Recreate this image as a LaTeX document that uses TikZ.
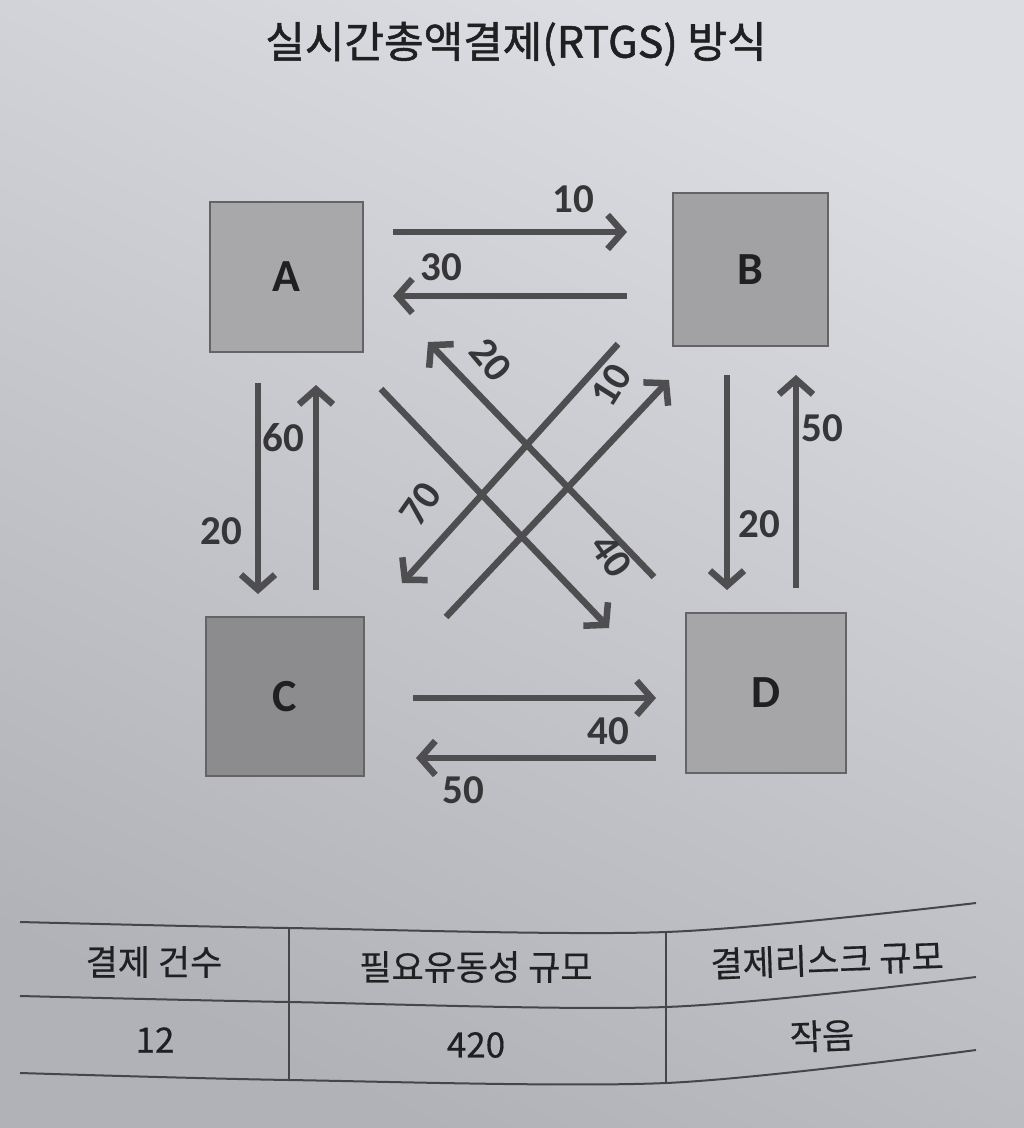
\documentclass[tikz,border=0pt]{standalone}
\usepackage{fontspec}
\setmainfont{Carlito}
\newfontfamily\kr[FakeBold=0.5]{Noto Sans CJK KR}
\newfontfamily\krt[FakeBold=1.2]{Noto Sans CJK KR}
\usetikzlibrary{arrows.meta}
\definecolor{pagetop}{RGB}{219,221,226}
\definecolor{pagebot}{RGB}{176,178,183}
\definecolor{arrowgray}{RGB}{78,78,80}
\definecolor{boxedge}{RGB}{100,100,102}
\definecolor{boxA}{RGB}{168,168,170}
\definecolor{boxB}{RGB}{162,162,164}
\definecolor{boxC}{RGB}{140,140,142}
\definecolor{boxD}{RGB}{166,166,168}
\definecolor{inkgray}{RGB}{32,32,34}
\definecolor{rulegray}{RGB}{70,70,72}
\begin{document}
\begin{tikzpicture}[x=1pt,y=-1pt,
  box/.style={draw=boxedge, line width=2pt, inner sep=0pt,
    font=\fontsize{46}{48}\selectfont\bfseries, text=inkgray},
  flow/.style={draw=arrowgray, line width=6.5pt,
    -{Straight Barb[length=15pt,width=34pt]}},
  lbl/.style={font=\fontsize{41}{43}\selectfont\bfseries, text=inkgray!90, inner sep=0pt},
  cell/.style={font=\kr\fontsize{35}{37}\selectfont, text=inkgray, inner sep=0pt},
  rule/.style={draw=rulegray, line width=2pt}
]
% page background
\shade[shading=axis, top color=pagetop, bottom color=pagebot, shading angle=-25]
  (0,0) rectangle (1024,1128);
\useasboundingbox (0,0) rectangle (1024,1128);

% title
\node[font=\krt\fontsize{43}{45}\selectfont, text=inkgray] (title) at (516,44)
  {실시간총액결제(RTGS) 방식};

% boxes
\node[box, fill=boxA, minimum width=153pt, minimum height=150pt] (A) at (286.5,277) {A};
\node[box, fill=boxB, minimum width=155pt, minimum height=153pt] (B) at (750.5,269.5) {B};
\node[box, fill=boxC, minimum width=158pt, minimum height=159pt] (C) at (285,696.5) {C};
\node[box, fill=boxD, minimum width=160pt, minimum height=160pt] (D) at (766,693) {D};

% arrow end points
\coordinate (ab1) at (393,232);  \coordinate (ab2) at (627,232);
\coordinate (ba1) at (627,296);  \coordinate (ba2) at (393,296);
\coordinate (ac1) at (258,383);  \coordinate (ac2) at (258,594);
\coordinate (ca1) at (316,590);  \coordinate (ca2) at (316,385);
\coordinate (bd1) at (727,375);  \coordinate (bd2) at (727,590);
\coordinate (db1) at (796,588);  \coordinate (db2) at (796,375);
\coordinate (cd1) at (413,698);  \coordinate (cd2) at (656,698);
\coordinate (dc1) at (656,758);  \coordinate (dc2) at (416,758);
\coordinate (da1) at (654,577);  \coordinate (da2) at (428,342);
\coordinate (ad1) at (381,389);  \coordinate (ad2) at (609,628);
\coordinate (bc1) at (618,344);  \coordinate (bc2) at (402,583);
\coordinate (cb1) at (446,617);  \coordinate (cb2) at (669,380);

% connectors
\draw[flow] (ab1) -- (ab2);
\draw[flow] (ba1) -- (ba2);
\draw[flow] (ac1) -- (ac2);
\draw[flow] (ca1) -- (ca2);
\draw[flow] (bd1) -- (bd2);
\draw[flow] (db1) -- (db2);
\draw[flow] (cd1) -- (cd2);
\draw[flow] (dc1) -- (dc2);
\draw[flow] (da1) -- (da2);
\draw[flow] (ad1) -- (ad2);
\draw[flow] (bc1) -- (bc2);
\draw[flow] (cb1) -- (cb2);

% labels
\node[lbl] (l10) at (573,199) {10};
\node[lbl] (l30) at (441,267) {30};
\node[lbl] (l20a) at (221,531) {20};
\node[lbl] (l60) at (283,438) {60};
\node[lbl] (l20b) at (759,524) {20};
\node[lbl] (l50a) at (822,428) {50};
\node[lbl] (l40a) at (608,731) {40};
\node[lbl] (l50b) at (463,790) {50};
\node[lbl, rotate=-50] (l20c) at (491,360) {20};
\node[lbl, rotate=-55] (l40b) at (611,556) {40};
\node[lbl, rotate=55] (l70) at (421,504) {70};
\node[lbl, rotate=58] (l10b) at (611,385) {10};

% table
\draw[rule] plot[smooth, tension=0.5] coordinates {(20,922) (289,928) (666,932) (976,903)};
\draw[rule] plot[smooth, tension=0.5] coordinates {(20,996) (289,1002) (666,1007) (976,977)};
\draw[rule] plot[smooth, tension=0.5] coordinates {(20,1073) (289,1080) (666,1083) (976,1050)};
\draw[rule] (289,928) -- (289,1080);
\draw[rule] (666,932) -- (666,1083);

\node[cell] (h1) at (154,962) {결제 건수};
\node[cell] (h2) at (476,967) {필요유동성 규모};
\node[cell, rotate=2] (h3) at (827,960) {결제리스크 규모};
\node[cell] (v1) at (155,1040) {12};
\node[cell] (v2) at (476,1045) {420};
\node[cell, rotate=2] (v3) at (822,1036) {작음};
\end{tikzpicture}
\end{document}
